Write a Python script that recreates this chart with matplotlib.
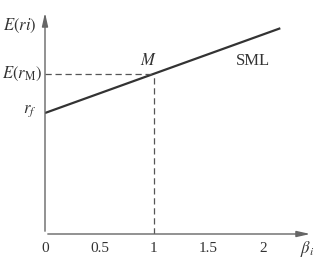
import matplotlib.pyplot as plt

beta = [0, 2.16]
rf = 1.11
erm = 1.47
sml = [rf + (erm - rf) * b for b in beta]
ticks = [0, 0.5, 1, 1.5, 2]
tick_labels = ['0', '0.5', '1', '1.5', '2']

plt.rcParams['font.family'] = 'Liberation Serif'
plt.rcParams['mathtext.fontset'] = 'stix'

fig = plt.figure(figsize=(3.26, 2.61), dpi=100)
ax = fig.add_axes([45 / 326, 27 / 261, 268 / 326, 224 / 261])
ax.set_xlim(0, 2.46)
ax.set_ylim(0, 2.055)
for s in ax.spines.values():
    s.set_visible(False)
ax.set_xticks([])
ax.set_yticks([])

axc = '#666666'
# axes with arrows
ax.annotate('', xy=(1, 0), xytext=(0, 0), xycoords='axes fraction',
            arrowprops=dict(arrowstyle='-|>,head_length=0.8,head_width=0.18', color=axc, lw=1))
ax.annotate('', xy=(0, 1), xytext=(0, 0), xycoords='axes fraction',
            arrowprops=dict(arrowstyle='-|>,head_length=0.8,head_width=0.18', color=axc, lw=1))

# SML line
ax.plot(beta, sml, color='#333333', lw=1.6, solid_capstyle='butt')
# dashed guides to market portfolio
ax.plot([0, 1], [erm, erm], ls=(0, (5, 3)), color='#555555', lw=0.9)
ax.plot([1, 1], [0, erm], ls=(0, (5, 3)), color='#555555', lw=0.9)

fs = 11
for t, lab in zip(ticks, tick_labels):
    ax.text(t, -0.07, lab, ha='center', va='top', fontsize=fs, color='#333333')
ax.text(2.41, -0.05, r'$\beta_i$', ha='center', va='top', fontsize=fs + 1, color='#333333')
ax.text(-0.08, 1.91, r'$E(ri)$', ha='right', va='center', fontsize=fs + 1, color='#333333')
ax.text(-0.03, erm, r'$E(r_\mathrm{M})$', ha='right', va='center', fontsize=fs + 1, color='#333333')
ax.text(-0.08, rf + 0.02, r'$r_f$', ha='right', va='center', fontsize=fs + 1, color='#333333')
ax.text(0.95, erm + 0.04, r'$M$', ha='center', va='bottom', fontsize=fs + 1, color='#333333')
ax.text(1.91, 1.59, 'SML', ha='center', va='center', fontsize=fs + 1, color='#333333')

fig.savefig('out.png', dpi=100)
